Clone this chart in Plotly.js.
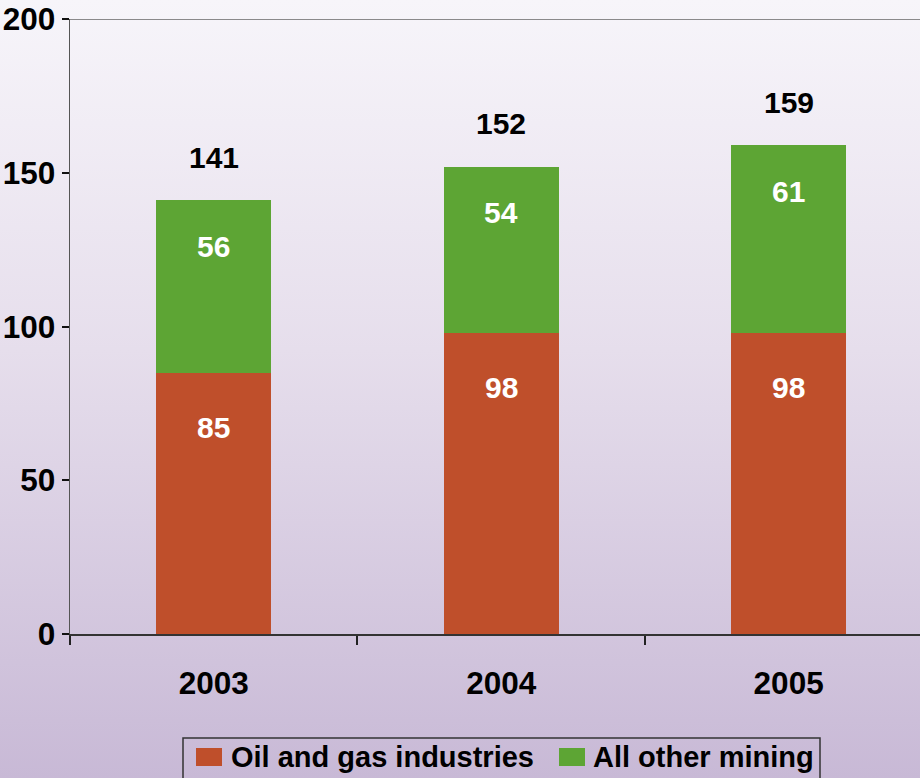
<!DOCTYPE html>
<html>
<head>
<meta charset="utf-8">
<script src="https://cdn.plot.ly/plotly-3.0.1.min.js"></script>
<style>
html,body{margin:0;padding:0;}
body{width:920px;height:778px;background:linear-gradient(to bottom,#f7f5fa 0%,#e6deec 45%,#c8b9d6 100%);overflow:hidden;}
#chart{width:920px;height:778px;}
</style>
</head>
<body>
<div id="chart"></div>
<script>
const years = ['2003', '2004', '2005'];
const oilGas = [85, 98, 98];
const otherMining = [56, 54, 61];
const totals = [141, 152, 159];
const seriesNames = ['Oil and gas industries', 'All other mining'];
const colors = ['#bf4f2b', '#5da534'];

const FONT = 'Liberation Sans, Arial, Helvetica, sans-serif';

const traces = [
  {type:'bar', name:seriesNames[0], x:years, y:oilGas, marker:{color:colors[0]}, width:0.4, showlegend:false},
  {type:'bar', name:seriesNames[1], x:years, y:otherMining, marker:{color:colors[1]}, width:0.4, showlegend:false}
];

const annotations = [];
years.forEach((yr, i) => {
  annotations.push({x:i, y:oilGas[i], text:String(oilGas[i]), showarrow:false, yanchor:'middle', yshift:-55,
    font:{family:FONT, size:30, color:'#ffffff', weight:'bold'}});
  annotations.push({x:i, y:oilGas[i] + otherMining[i], text:String(otherMining[i]), showarrow:false, yanchor:'middle', yshift:-46,
    font:{family:FONT, size:30, color:'#ffffff', weight:'bold'}});
  annotations.push({x:i, y:totals[i], text:String(totals[i]), showarrow:false, yanchor:'middle', yshift:43,
    font:{family:FONT, size:30, color:'#000000', weight:'bold'}});
});

// custom legend (paper coordinates: x=(px-70)/850, y=(634-py)/615)
const px = v => (v - 70) / 850;
const py = v => (634 - v) / 615;
const shapes = [
  {type:'line', xref:'paper', yref:'y', x0:0, x1:1, y0:200, y1:200, line:{color:'#666666', width:1.5}},
  {type:'rect', xref:'paper', yref:'paper', x0:px(183), x1:px(820), y0:py(738), y1:py(800), line:{color:'#333333', width:1.5}, fillcolor:'rgba(0,0,0,0)'},
  {type:'rect', xref:'paper', yref:'paper', x0:px(196), x1:px(222), y0:py(748), y1:py(766), line:{width:0}, fillcolor:colors[0]},
  {type:'rect', xref:'paper', yref:'paper', x0:px(559), x1:px(585), y0:py(748), y1:py(766), line:{width:0}, fillcolor:colors[1]}
];
annotations.push({xref:'paper', yref:'paper', x:px(229), y:py(757), xanchor:'left', yanchor:'middle', text:seriesNames[0], showarrow:false,
  font:{family:FONT, size:29, color:'#000000', weight:'bold'}});
annotations.push({xref:'paper', yref:'paper', x:px(591), y:py(757), xanchor:'left', yanchor:'middle', text:seriesNames[1], showarrow:false,
  font:{family:FONT, size:29, color:'#000000', weight:'bold'}});

const layout = {
  width:920, height:778,
  margin:{l:70, r:0, t:19, b:144, autoexpand:false},
  paper_bgcolor:'rgba(0,0,0,0)',
  plot_bgcolor:'rgba(0,0,0,0)',
  barmode:'stack',
  showlegend:false,
  font:{family:FONT, size:28, color:'#000000', weight:'bold'},
  xaxis:{
    type:'category', range:[-0.5, 2.457], fixedrange:true,
    showline:true, linecolor:'#333333', linewidth:1.5,
    ticks:'outside', tickson:'boundaries', ticklen:9, tickwidth:2, tickcolor:'#222222',
    ticklabelstandoff:21,
    tickfont:{family:FONT, size:31.5, color:'#000000', weight:'bold'},
    showgrid:false, zeroline:false
  },
  yaxis:{
    range:[0, 200], tickvals:[0, 50, 100, 150, 200], fixedrange:true,
    showline:true, linecolor:'#555555', linewidth:1.5,
    ticks:'outside', ticklen:7, tickwidth:2, tickcolor:'#111111',
    ticklabelstandoff:0,
    tickfont:{family:FONT, size:31.5, color:'#000000', weight:'bold'},
    showgrid:false, zeroline:false
  },
  shapes:shapes,
  annotations:annotations
};

Plotly.newPlot('chart', traces, layout, {displayModeBar:false, staticPlot:true});
</script>
</body>
</html>
